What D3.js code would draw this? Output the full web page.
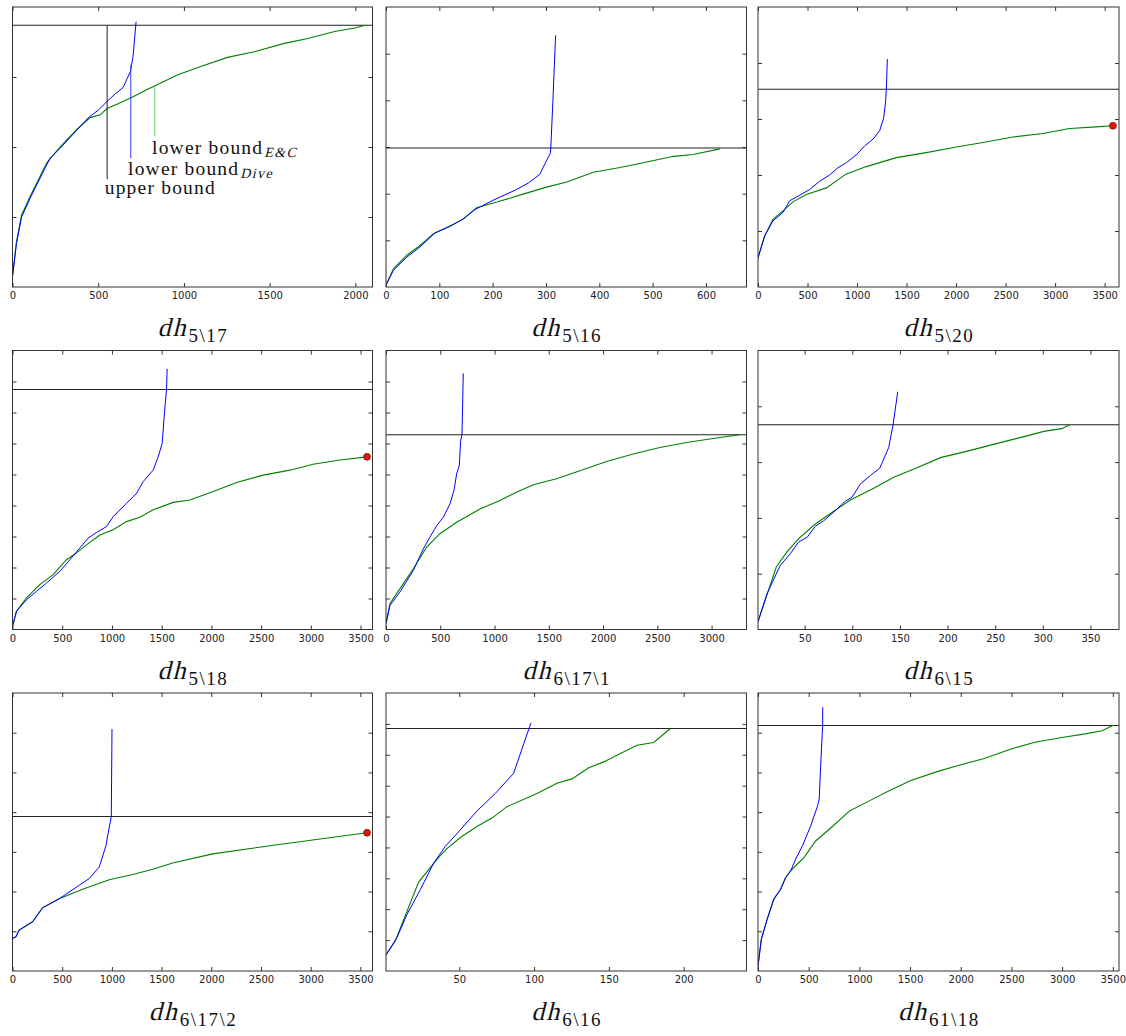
<!DOCTYPE html>
<html>
<head>
<meta charset="utf-8">
<script src="https://cdn.jsdelivr.net/npm/d3@7"></script>
<style>
  body { margin: 0; background: #fff; }
  .tick text { font-family: "DejaVu Sans", sans-serif; font-size: 10px; fill: #222; }
  .tick line { stroke: #333; }
  .serif { font-family: "Liberation Serif", "DejaVu Serif", serif; fill: #111; }
</style>
</head>
<body>
<svg width="1126" height="1036"></svg>
<script>
// panel names (subscript of dh)
const names = ["5\\17", "5\\16", "5\\20", "5\\18", "6\\17\\1", "6\\15", "6\\17\\2", "6\\16", "61\\18"];

const xDomains = [[0, 2100], [0, 676], [0, 3645], [0, 3620], [0, 3322], [1, 380], [0, 3622], [1, 242], [0, 3561]];
const xTicks = [
    [0, 500, 1000, 1500, 2000],
    [0, 100, 200, 300, 400, 500, 600],
    [0, 500, 1000, 1500, 2000, 2500, 3000, 3500],
    [0, 500, 1000, 1500, 2000, 2500, 3000, 3500],
    [0, 500, 1000, 1500, 2000, 2500, 3000],
    [50, 100, 150, 200, 250, 300, 350],
    [0, 500, 1000, 1500, 2000, 2500, 3000, 3500],
    [50, 100, 150, 200],
    [0, 500, 1000, 1500, 2000, 2500, 3000, 3500]
];
// y axis has no labels, values are in tick units
const yIntervals = [4, 6, 5, 9, 9, 5, 7, 9, 7];
const upperBound = [3.74, 2.98, 3.53, 7.74, 6.28, 3.67, 3.89, 7.85, 6.18];
// panels where E&C hit the time limit (red dot)
const timedOut = [false, false, true, true, false, false, true, false, false];

// lower bound of Dive (blue)
const dive_5_17 = [[0,0.15],[23,0.62],[53,1.0],[111,1.31],[170,1.6],[219,1.84],[277,1.98],[375,2.24],[443,2.42],[502,2.53],[551,2.65],[600,2.76],[645,2.85],[688,3.08],[703,3.29],[721,3.79]];
const dive_5_16 = [[0,0.04],[14,0.36],[39,0.64],[64,0.86],[92,1.16],[123,1.32],[145,1.46],[167,1.66],[201,1.86],[245,2.09],[267,2.23],[288,2.41],[298,2.64],[308,2.86],[309,2.98],[313,4.0],[318,5.39]];
const dive_5_20 = [[0,0.52],[67,0.91],[151,1.18],[252,1.33],[320,1.54],[421,1.64],[522,1.74],[623,1.89],[723,2.0],[808,2.13],[892,2.22],[993,2.36],[1077,2.52],[1161,2.64],[1228,2.79],[1269,3.02],[1289,3.32],[1296,3.53],[1306,4.07]];
const dive_5_18 = [[0,0.1],[40,0.59],[141,0.96],[241,1.23],[342,1.5],[476,1.88],[577,2.25],[677,2.63],[761,2.95],[845,3.13],[945,3.32],[1012,3.64],[1146,4.07],[1247,4.39],[1314,4.77],[1414,5.14],[1465,5.57],[1505,6.0],[1525,6.86],[1539,7.4],[1549,7.74],[1555,8.41]];
const dive_6_17_1 = [[0,0.19],[37,0.78],[129,1.21],[252,1.91],[344,2.6],[405,2.98],[467,3.35],[528,3.62],[589,4.05],[626,4.48],[651,5.02],[675,5.28],[688,6.09],[700,6.28],[712,8.26]];
const dive_6_15 = [[1,0.14],[10.4,0.64],[24.4,1.15],[35,1.36],[43.7,1.57],[52.5,1.65],[61.2,1.85],[70,1.95],[82.2,2.13],[92.7,2.3],[99.7,2.37],[108.5,2.61],[119,2.76],[128.8,2.89],[138.2,3.26],[142.8,3.67],[147.7,4.26]];
const dive_6_17_2 = [[0,0.82],[34,0.86],[67,1.03],[202,1.24],[302,1.59],[470,1.82],[571,1.99],[672,2.16],[773,2.33],[873,2.62],[941,3.16],[964,3.5],[984,3.75],[994,3.89],[1001,6.09]];
const dive_6_16 = [[1,0.52],[8.3,1.08],[15,1.83],[23.9,2.63],[32.8,3.49],[40.6,4.03],[50.7,4.57],[61.8,5.18],[74.1,5.75],[86.3,6.4],[97.9,8.03]];
const dive_61_18 = [[0,0.13],[33,0.8],[90,1.3],[156,1.81],[223,2.06],[272,2.35],[322,2.52],[372,2.82],[438,3.15],[521,3.66],[588,4.16],[604,4.33],[621,5.34],[638,6.18],[638,6.64]];

// lower bound of E&C (green)
const ec_5_17 = [[0,0.15],[23,0.64],[53,1.03],[102,1.29],[199,1.77],[277,2.0],[375,2.25],[453,2.42],[512,2.46],[551,2.55],[619,2.62],[707,2.72],[785,2.82],[844,2.89],[961,3.03],[1098,3.15],[1254,3.28],[1410,3.36],[1586,3.48],[1723,3.55],[1879,3.65],[1996,3.7],[2058,3.74]];
const ec_5_16 = [[0,0.04],[14,0.39],[39,0.68],[64,0.89],[89,1.14],[120,1.3],[145,1.46],[170,1.7],[208,1.82],[257,1.99],[301,2.14],[339,2.25],[389,2.46],[439,2.56],[489,2.68],[539,2.8],[576,2.84],[626,2.96]];
const ec_5_20 = [[0,0.52],[67,0.91],[151,1.21],[252,1.36],[353,1.52],[488,1.65],[690,1.77],[892,2.02],[1094,2.15],[1397,2.31],[1699,2.4],[2002,2.5],[2271,2.58],[2574,2.68],[2877,2.74],[3146,2.83],[3416,2.86],[3584,2.88]];
const ec_5_18 = [[0,0.1],[40,0.59],[141,1.02],[275,1.45],[409,1.77],[543,2.25],[644,2.47],[744,2.73],[878,3.05],[1012,3.22],[1146,3.48],[1280,3.62],[1415,3.86],[1616,4.1],[1783,4.18],[2018,4.45],[2253,4.74],[2521,4.98],[2789,5.14],[3023,5.33],[3292,5.47],[3565,5.57]];
const ec_6_17_1 = [[0,0.19],[37,0.84],[129,1.32],[252,1.96],[375,2.66],[497,3.09],[651,3.46],[866,3.89],[1050,4.16],[1203,4.43],[1357,4.67],[1572,4.86],[1787,5.12],[2032,5.42],[2278,5.66],[2524,5.87],[2769,6.03],[3015,6.16],[3260,6.28]];
const ec_6_15 = [[1,0.14],[20.2,1.12],[31.4,1.39],[43.7,1.63],[61.2,1.89],[80.5,2.12],[98,2.32],[122.5,2.53],[143.5,2.73],[168,2.9],[192.5,3.08],[224,3.21],[262.5,3.38],[283.5,3.47],[301,3.55],[320,3.6],[328,3.67]];
const ec_6_17_2 = [[0,0.82],[34,0.86],[67,1.03],[202,1.24],[302,1.59],[470,1.82],[705,2.06],[974,2.3],[1209,2.43],[1411,2.56],[1612,2.72],[2015,2.95],[2553,3.14],[3057,3.31],[3567,3.48]];
const ec_6_16 = [[1,0.52],[7.2,0.97],[22.8,2.88],[36.2,3.68],[41.8,3.96],[50.7,4.32],[61.8,4.68],[71.8,4.95],[81.9,5.32],[101.9,5.75],[115.3,6.08],[125.3,6.22],[136.5,6.58],[146.5,6.77],[157.7,7.04],[168.8,7.31],[180,7.4],[191.1,7.85]];
const ec_61_18 = [[0,0.13],[33,0.8],[90,1.3],[156,1.81],[223,2.06],[272,2.35],[322,2.52],[372,2.65],[455,2.86],[571,3.28],[704,3.57],[903,4.03],[1103,4.29],[1269,4.51],[1501,4.79],[1767,5.02],[1966,5.17],[2232,5.35],[2497,5.59],[2730,5.76],[2996,5.88],[3228,5.97],[3394,6.05],[3500,6.18]];

const diveSeries = [dive_5_17, dive_5_16, dive_5_20, dive_5_18, dive_6_17_1, dive_6_15, dive_6_17_2, dive_6_16, dive_61_18];
const ecSeries = [ec_5_17, ec_5_16, ec_5_20, ec_5_18, ec_6_17_1, ec_6_15, ec_6_17_2, ec_6_16, ec_61_18];

// pointer labels in the first panel (data coordinates)
const annotations = [
    { text: "upper bound", sub: "", color: "#222", x: 552, yTop: 3.74, yBot: 1.54, tx: 538, ty: 1.33 },
    { text: "lower bound", sub: "Dive", color: "#3b3bff", x: 690, yTop: 3.17, yBot: 1.84, tx: 674, ty: 1.6 },
    { text: "lower bound", sub: "E&C", color: "#66cc66", x: 830, yTop: 2.86, yBot: 2.15, tx: 814, ty: 1.9 }
];

const colX = [[12.5, 372.5], [386, 746.5], [758, 1119]];
const rowY = [[7, 287], [350.5, 629.5], [693, 971]];

const svg = d3.select("svg");
svg.append("rect").attr("width", 1126).attr("height", 1036).attr("fill", "#fff");

// italic look made by slanting the upright serif face
function slanted(parent, x, y, size, str, spacing) {
    return parent.append("text").attr("class", "serif")
        .attr("transform", `translate(${x},${y}) skewX(-14)`)
        .attr("font-size", size).attr("letter-spacing", spacing)
        .text(str);
}

function drawPanel(i) {
    const col = i % 3, row = Math.floor(i / 3);
    const [x0, x1] = colX[col], [y0, y1] = rowY[row];
    const x = d3.scaleLinear().domain(xDomains[i]).range([x0, x1]);
    const y = d3.scaleLinear().domain([0, yIntervals[i]]).range([y1, y0]);
    const g = svg.append("g");

    g.append("clipPath").attr("id", "clip" + i)
        .append("rect").attr("x", x0).attr("y", y0).attr("width", x1 - x0).attr("height", y1 - y0);

    // ticks on all four sides, pointing inward
    const yTicks = d3.range(1, yIntervals[i]);
    g.append("g").attr("transform", `translate(0,${y1})`)
        .call(d3.axisBottom(x).tickValues(xTicks[i]).tickFormat(d3.format("d"))
            .tickSizeInner(-4).tickSizeOuter(0).tickPadding(5));
    g.append("g").attr("transform", `translate(0,${y0})`)
        .call(d3.axisTop(x).tickValues(xTicks[i]).tickSizeInner(-4).tickSizeOuter(0).tickFormat(""));
    g.append("g").attr("transform", `translate(${x0},0)`)
        .call(d3.axisLeft(y).tickValues(yTicks).tickSizeInner(-4).tickSizeOuter(0).tickFormat(""));
    g.append("g").attr("transform", `translate(${x1},0)`)
        .call(d3.axisRight(y).tickValues(yTicks).tickSizeInner(-4).tickSizeOuter(0).tickFormat(""));
    g.selectAll(".domain").remove();

    const line = d3.line().x(d => x(d[0])).y(d => y(d[1]));
    const plot = g.append("g").attr("clip-path", `url(#clip${i})`);

    plot.append("line")
        .attr("x1", x0).attr("x2", x1)
        .attr("y1", y(upperBound[i])).attr("y2", y(upperBound[i]))
        .attr("stroke", "#222").attr("stroke-width", 1.1);

    plot.append("path").datum(ecSeries[i])
        .attr("d", line).attr("fill", "none")
        .attr("stroke", "#008000").attr("stroke-width", 1.1);

    plot.append("path").datum(diveSeries[i])
        .attr("d", line).attr("fill", "none")
        .attr("stroke", "#0000ff").attr("stroke-width", 1);

    if (timedOut[i]) {
        const last = ecSeries[i][ecSeries[i].length - 1];
        g.append("circle")
            .attr("cx", x(last[0])).attr("cy", y(last[1])).attr("r", 3.5)
            .attr("fill", "#d41a0c").attr("stroke", "#7a0000").attr("stroke-width", 0.6);
    }

    if (i === 0) {
        annotations.forEach(a => {
            g.append("line")
                .attr("x1", x(a.x)).attr("x2", x(a.x))
                .attr("y1", y(a.yTop)).attr("y2", y(a.yBot))
                .attr("stroke", a.color).attr("stroke-width", 1);
            const t = g.append("text").attr("class", "serif")
                .attr("x", x(a.tx)).attr("y", y(a.ty))
                .attr("font-size", 19.5).attr("letter-spacing", 1.2)
                .text(a.text);
            if (a.sub) {
                const w = t.node().getComputedTextLength();
                slanted(g, x(a.tx) + w + 1, y(a.ty) + 2.5, 14, a.sub, 1.4);
            }
        });
    }

    // frame
    g.append("rect")
        .attr("x", x0).attr("y", y0).attr("width", x1 - x0).attr("height", y1 - y0)
        .attr("fill", "none").attr("stroke", "#333").attr("stroke-width", 1);

    // panel label under the axis: dh with subscript
    const cx = (x0 + x1) / 2, base = y1 + 49;
    const dh = slanted(g, 0, base, 26, "dh", 2);
    const sub = g.append("text").attr("class", "serif")
        .attr("font-size", 19).attr("letter-spacing", 1.5).text(names[i]);
    const wd = dh.node().getComputedTextLength(), ws = sub.node().getComputedTextLength();
    const left = cx - (wd + ws) / 2;
    dh.attr("transform", `translate(${left},${base}) skewX(-14)`);
    sub.attr("x", left + wd + 1).attr("y", base + 6);
}

for (let i = 0; i < 9; i++) drawPanel(i);
</script>
</body>
</html>
